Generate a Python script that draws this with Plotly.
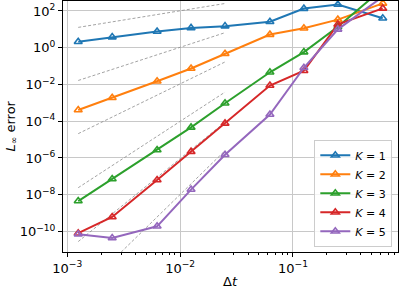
import plotly.graph_objects as go

# ---- data ----
dt = [0.00125, 0.0025, 0.00625, 0.0125, 0.025, 0.0625, 0.125, 0.25, 0.625]

err_K1 = [2.1, 3.8, 7.6, 12.0, 15.0, 26.0, 135.0, 225.0, 40.0]
err_K2 = [4.1e-4, 1.9e-3, 1.5e-2, 7.4e-2, 0.47, 5.2, 11.5, 34.0, 260.0]
err_K3 = [4.5e-9, 7.2e-8, 2.7e-6, 4.6e-5, 9.5e-4, 4.6e-2, 0.58, 14.0, 1650.0]
err_K4 = [8.0e-11, 6.1e-10, 6.3e-8, 2.2e-6, 7.6e-5, 8.8e-3, 0.056, 18.6, 138.0]
err_K5 = [7.0e-11, 4.4e-11, 1.9e-10, 1.9e-8, 1.5e-6, 2.3e-4, 0.081, 10.0, 600.0]

series_names = ["<i>K</i> = 1", "<i>K</i> = 2", "<i>K</i> = 3", "<i>K</i> = 4", "<i>K</i> = 5"]
series_vals = [err_K1, err_K2, err_K3, err_K4, err_K5]
colors = ["#1f77b4", "#ff7f0e", "#2ca02c", "#d62728", "#9467bd"]

# reference slope lines: end points at dt[0] and dt[4]
ref_dt = [0.00125, 0.025]
ref_start = [12.8, 0.0165, 2.1e-5, 2.4e-8, 2.8e-11, 3.9e-14]
ref_end = [256.0, 6.6, 0.168, 3.84e-3, 8.96e-5, 2.5e-6]

x_tickvals = [1e-3, 1e-2, 1e-1]
x_ticktext = ["10<sup>\u22123</sup>", "10<sup>\u22122</sup>", "10<sup>\u22121</sup>"]
y_tickvals = [1e2, 1e0, 1e-2, 1e-4, 1e-6, 1e-8, 1e-10]
y_ticktext = ["10<sup>2</sup>", "10<sup>0</sup>", "10<sup>\u22122</sup>", "10<sup>\u22124</sup>",
              "10<sup>\u22126</sup>", "10<sup>\u22128</sup>", "10<sup>\u221210</sup>"]
x_minor = [m * 10.0 ** e for e in (-3, -2, -1) for m in range(2, 10)]

fig = go.Figure()

for s, e in zip(ref_start, ref_end):
    fig.add_trace(go.Scatter(x=ref_dt, y=[s, e], mode="lines", showlegend=False,
                             line=dict(color="#8c8c8c", width=0.8, dash="3px,2px"),
                             hoverinfo="skip"))

for name, vals, c in zip(series_names, series_vals, colors):
    fig.add_trace(go.Scatter(x=dt, y=vals, mode="lines+markers", name=name,
                             line=dict(color=c, width=2),
                             marker=dict(symbol="triangle-up-open", size=7,
                                         color=c, line=dict(color=c, width=1.6))))

font = "DejaVu Sans"
fig.update_layout(
    width=399, height=289,
    margin=dict(l=63, r=1, t=1, b=37, autoexpand=False),
    paper_bgcolor="white", plot_bgcolor="white",
    font=dict(family=font, size=13, color="black"),
    showlegend=True,
    legend=dict(x=0.983, y=0.021, xanchor="right", yanchor="bottom",
                bgcolor="rgba(255,255,255,0.8)", bordercolor="#cccccc", borderwidth=1,
                font=dict(family=font, size=11), itemwidth=30,
                tracegroupgap=0),
    annotations=[
        dict(text="<i>L</i><sub>\u221e</sub> error", xref="paper", yref="paper",
             x=(11 - 63) / 335, y=0.5, xanchor="center", yanchor="middle",
             textangle=-90, showarrow=False, font=dict(family=font, size=13)),
        dict(text="\u0394<i>t</i>", xref="paper", yref="paper",
             x=0.5, y=(252 - 281) / 251, xanchor="center", yanchor="middle",
             showarrow=False, font=dict(family=font, size=13)),
    ],
)

fig.update_xaxes(type="log", range=[-3.038, -0.069], automargin=False,
                 tickmode="array", tickvals=x_tickvals, ticktext=x_ticktext,
                 ticks="outside", ticklen=4, tickwidth=1, tickcolor="black",
                 showgrid=True, gridcolor="#c8c8c8", gridwidth=1,
                 showline=True, linecolor="black", linewidth=1, mirror=True,
                 zeroline=False,
                 minor=dict(tickmode="array", tickvals=x_minor, ticks="outside",
                            ticklen=2, tickwidth=0.8, tickcolor="black", showgrid=False))
fig.update_yaxes(type="log", range=[-11.12, 2.544], automargin=False,
                 tickmode="array", tickvals=y_tickvals, ticktext=y_ticktext,
                 ticks="outside", ticklen=4, tickwidth=1, tickcolor="black",
                 showgrid=True, gridcolor="#c8c8c8", gridwidth=1,
                 showline=True, linecolor="black", linewidth=1, mirror=True,
                 zeroline=False)

fig.write_html("out.html", config={"displayModeBar": False},
               post_script="document.body.style.margin='0px';document.body.style.padding='0px';")
